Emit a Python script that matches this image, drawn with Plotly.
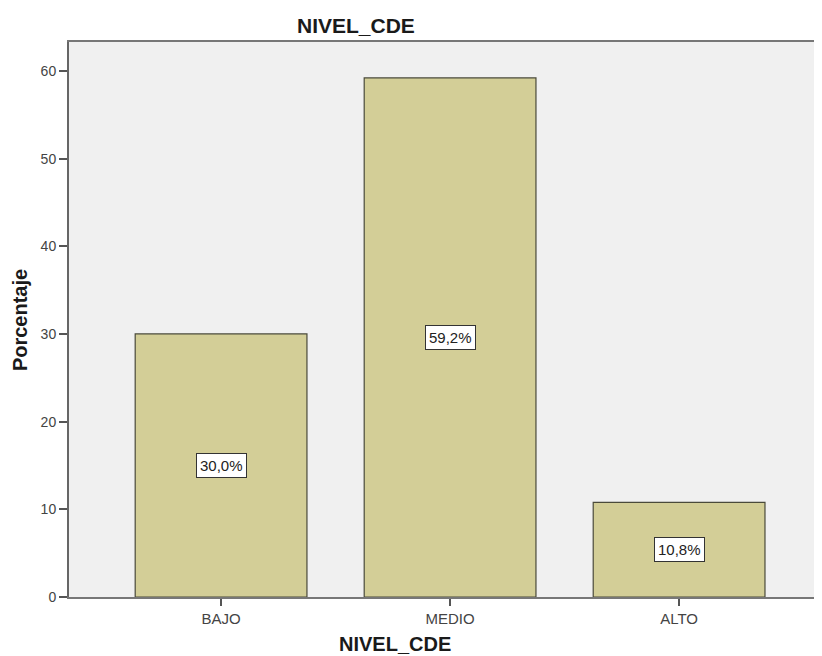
import plotly.graph_objects as go

categories = ["BAJO", "MEDIO", "ALTO"]
values = [30.0, 59.2, 10.8]
labels = ["30,0%", "59,2%", "10,8%"]
y_ticks = [0, 10, 20, 30, 40, 50, 60]

FONT = "Arial, Liberation Sans, sans-serif"

fig = go.Figure()
fig.add_trace(go.Bar(
    x=list(range(len(categories))),
    y=values,
    width=0.75,
    marker=dict(color="#D3CE97", line=dict(color="#4a4a3a", width=1.2)),
    hoverinfo="skip",
))

annotations = []
for i, (v, lab) in enumerate(zip(values, labels)):
    annotations.append(dict(
        x=i, y=v / 2, xref="x", yref="y", text=lab, showarrow=False,
        font=dict(family=FONT, size=15, color="#222"),
        bgcolor="white", bordercolor="#333", borderwidth=1, borderpad=3,
    ))

annotations += [
    dict(text="<b>NIVEL_CDE</b>", x=0.381, y=1.029, xref="paper", yref="paper",
         showarrow=False, font=dict(family=FONT, size=21, color="#1a1a1a"),
         xanchor="center", yanchor="middle"),
    dict(text="<b>NIVEL_CDE</b>", x=0.433, y=-0.084, xref="paper", yref="paper",
         showarrow=False, font=dict(family=FONT, size=20, color="#1a1a1a"),
         xanchor="center", yanchor="middle"),
    dict(text="<b>Porcentaje</b>", x=-0.065, y=0.499, xref="paper", yref="paper",
         showarrow=False, textangle=-90, font=dict(family=FONT, size=20, color="#1a1a1a"),
         xanchor="center", yanchor="middle"),
]

fig.update_layout(
    width=814, height=648,
    margin=dict(l=61, r=0, t=34, b=59),
    paper_bgcolor="white",
    plot_bgcolor="#F0F0F0",
    showlegend=False,
    annotations=annotations,
    xaxis=dict(
        range=[-0.664, 2.624],
        tickmode="array", tickvals=list(range(len(categories))), ticktext=categories,
        ticks="outside", ticklen=7, tickwidth=1.5, tickcolor="#555",
        tickfont=dict(family=FONT, size=15, color="#444"),
        showline=True, linecolor="#777", linewidth=2, mirror=True,
        showgrid=False, zeroline=False, fixedrange=True,
    ),
    yaxis=dict(
        range=[0, 63.3],
        tickmode="array", tickvals=y_ticks, ticktext=[str(t) for t in y_ticks],
        ticks="outside", ticklen=8, tickwidth=1.5, tickcolor="#555",
        tickfont=dict(family=FONT, size=14, color="#444"),
        showline=True, linecolor="#666", linewidth=2,
        showgrid=False, zeroline=False, fixedrange=True,
    ),
)

fig.write_html("out.html")
